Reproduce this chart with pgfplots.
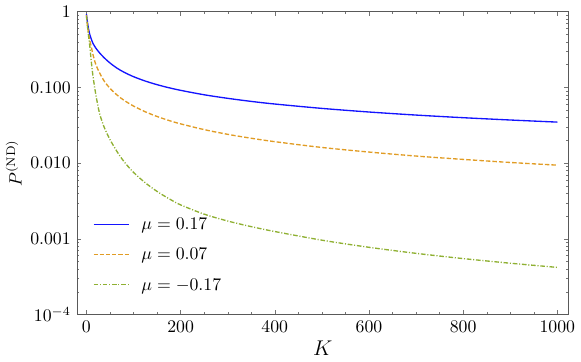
\documentclass[border=0pt]{standalone}
\usepackage{pgfplots}
\pgfplotsset{compat=1.18}
\definecolor{cblue}{RGB}{20,20,255}
\definecolor{corange}{RGB}{225,156,36}
\definecolor{cgreen}{RGB}{143,176,50}
\newcommand{\lsolid}{\rule[-0.375pt]{20pt}{0.75pt}}
\newcommand{\ldash}{\rule[-0.375pt]{2.4pt}{0.75pt}}
\newcommand{\lgap}{\hspace{1.1pt}}
\newcommand{\ldot}{\rule[-0.375pt]{0.6pt}{0.75pt}}
\newcommand{\lgapb}{\hspace{1pt}}
\newcommand{\ldd}{\rule[-0.375pt]{2.6pt}{0.75pt}}
\begin{document}
\begin{tikzpicture}
\begin{axis}[
  scale only axis,
  width=277pt, height=170.7pt,
  ymode=log,
  xmin=-20, xmax=1024,
  ymin=1e-4, ymax=1,
  xtick={0,200,400,600,800,1000},
  minor x tick num=3,
  x tick label style={/pgf/number format/1000 sep={}},
  ytick={1e-4,1e-3,1e-2,1e-1,1},
  yticklabels={$10^{-4}$,$0.001$,$0.010$,$0.100$,$1$},
  tick align=inside,
  major tick length=2.4pt,
  minor tick length=1.3pt,
  axis line style={black!65},
  tick style={black!55},
  xlabel={$K$},
  ylabel={$P^{(\mathrm{ND})}$},
  xlabel style={font=\large, yshift=2pt},
  ylabel style={yshift=-2pt},
  legend cell align=left,
  legend style={at={(rel axis cs:0.022,0.342)}, anchor=north west, draw=none, fill=none, row sep=5pt, /tikz/every odd column/.append style={column sep=5pt}},
]
\addlegendimage{legend image code/.code={\node[inner sep=0pt, anchor=west] at (0pt,0pt) {\textcolor{cblue}{\lsolid}};}}
\addlegendentry{$\mu=0.17$}
\addlegendimage{legend image code/.code={\node[inner sep=0pt, anchor=west] at (0pt,0pt) {\textcolor{corange}{\ldash\lgap\ldash\lgap\ldash\lgap\ldash\lgap\ldash\lgap\ldash}};}}
\addlegendentry{$\mu=0.07$}
\addlegendimage{legend image code/.code={\node[inner sep=0pt, anchor=west] at (0pt,0pt) {\textcolor{cgreen}{\ldd\lgapb\ldot\lgapb\ldd\lgapb\ldot\lgapb\ldd\lgapb\ldot\lgapb\ldd\lgapb\ldot}};}}
\addlegendentry{$\mu=-0.17$}
\addplot[draw=cblue, line width=0.75pt, smooth, forget plot] coordinates {
(0,0.93) (1,0.83) (2,0.74) (3,0.67) (5,0.57) (7,0.50) (10,0.44) (14,0.38) (20,0.33) (28,0.285) (38,0.245) (50,0.210) (65,0.1794) (80,0.1584) (100,0.1385) (125,0.1212) (150,0.1086) (175,0.0990) (200,0.0914) (250,0.0799) (300,0.0717) (350,0.0653) (400,0.0603) (500,0.0528) (600,0.0473) (700,0.0431) (800,0.0398) (900,0.0371) (1000,0.0348)
};
\addplot[draw=corange, line width=0.75pt, dash pattern=on 2.5pt off 1.2pt, smooth, forget plot] coordinates {
(0,0.90) (1,0.78) (2,0.68) (3,0.60) (5,0.50) (7,0.42) (10,0.35) (14,0.27) (20,0.20) (28,0.155) (38,0.1205) (50,0.0973) (65,0.0793) (80,0.0674) (100,0.0567) (125,0.0476) (150,0.0413) (175,0.0366) (200,0.0330) (250,0.0277) (300,0.0240) (350,0.0213) (400,0.0192) (500,0.0161) (600,0.0140) (700,0.0124) (800,0.0112) (900,0.0102) (1000,0.0094)
};
\addplot[draw=cgreen, line width=0.75pt, dash pattern=on 2.6pt off 1pt on 0.6pt off 1pt, smooth, forget plot] coordinates {
(0,0.88) (1,0.76) (2,0.66) (3,0.58) (5,0.45) (7,0.36) (10,0.23) (14,0.14) (20,0.080) (28,0.045) (38,0.0295) (50,0.0205) (65,0.0142) (80,0.01044) (100,0.00755) (125,0.00550) (150,0.00423) (175,0.00340) (200,0.00281) (250,0.00212) (300,0.00172) (350,0.00145) (400,0.00125) (500,0.000961) (600,0.000774) (700,0.000644) (800,0.000549) (900,0.000477) (1000,0.00042)
};
\end{axis}
\end{tikzpicture}
\end{document}
